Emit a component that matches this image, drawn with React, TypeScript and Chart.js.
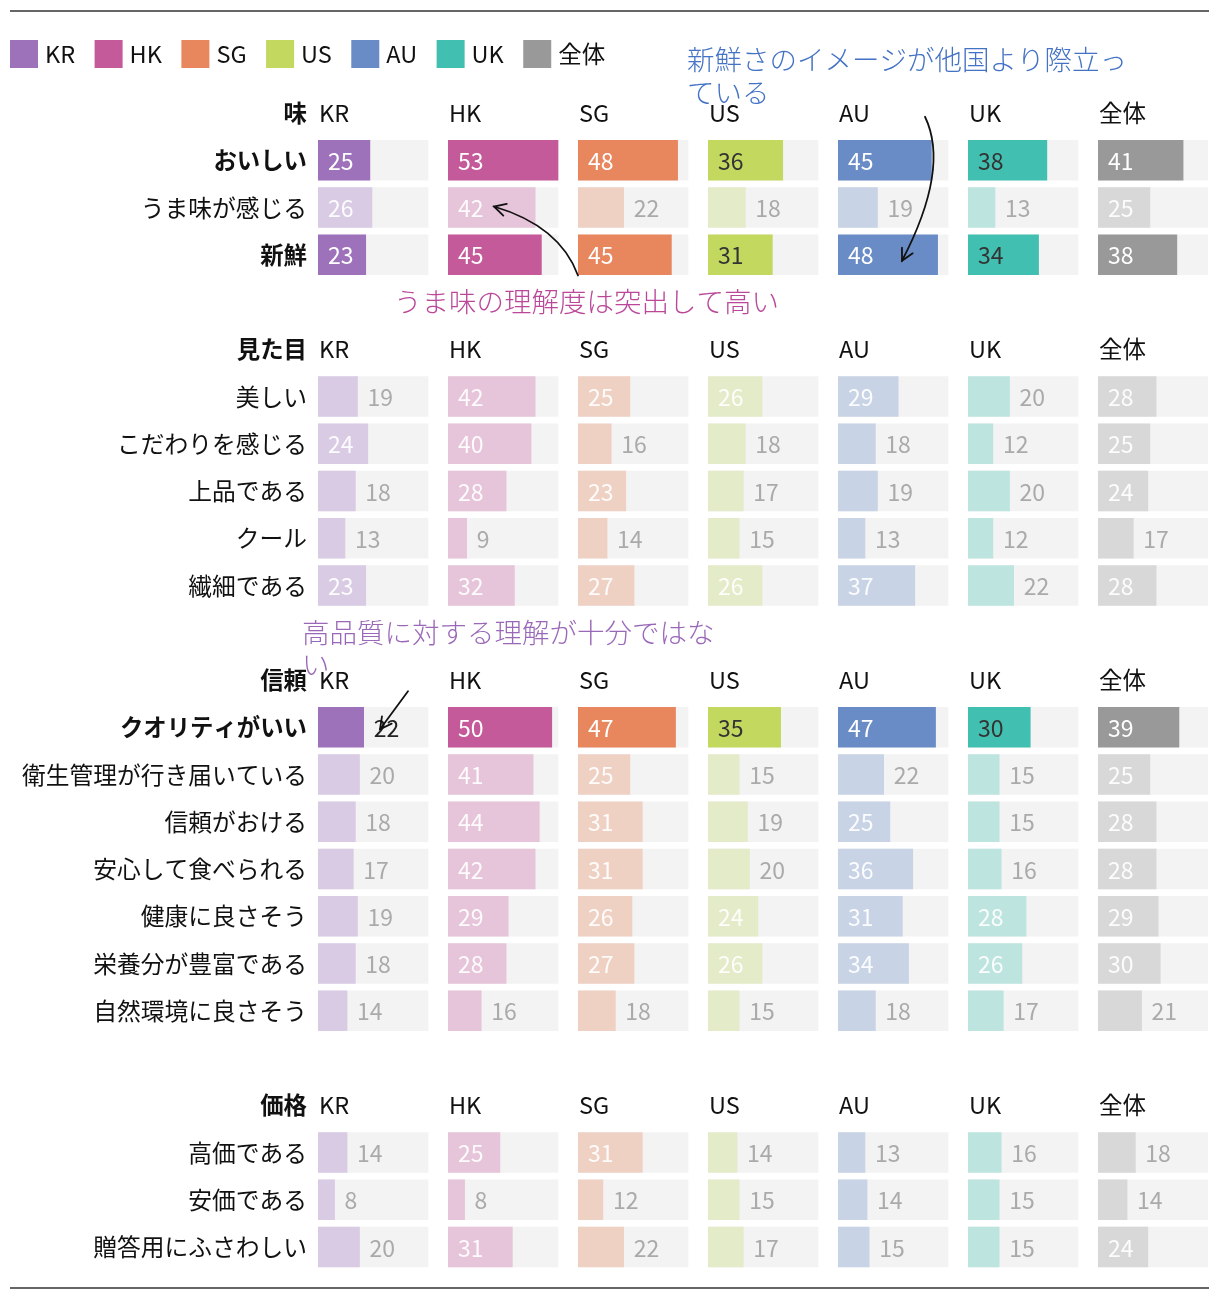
import React, { useEffect, useRef } from 'react';
import { Chart, registerables } from 'chart.js';

Chart.register(...registerables);

// ---------------- data ----------------
const countries = ['KR', 'HK', 'SG', 'US', 'AU', 'UK', '全体'];
const sectionNames = ['味', '見た目', '信頼', '価格'];
const tasteItems = ['おいしい', 'うま味が感じる', '新鮮'];
const lookItems = ['美しい', 'こだわりを感じる', '上品である', 'クール', '繊細である'];
const trustItems = ['クオリティがいい', '衛生管理が行き届いている', '信頼がおける', '安心して食べられる', '健康に良さそう', '栄養分が豊富である', '自然環境に良さそう'];
const priceItems = ['高価である', '安価である', '贈答用にふさわしい'];
const highlightedItems = ['おいしい', '新鮮', 'クオリティがいい'];

// values in item order: taste(3), look(5), trust(7), price(3)
const valuesKR = [25, 26, 23, 19, 24, 18, 13, 23, 22, 20, 18, 17, 19, 18, 14, 14, 8, 20];
const valuesHK = [53, 42, 45, 42, 40, 28, 9, 32, 50, 41, 44, 42, 29, 28, 16, 25, 8, 31];
const valuesSG = [48, 22, 45, 25, 16, 23, 14, 27, 47, 25, 31, 31, 26, 27, 18, 31, 12, 22];
const valuesUS = [36, 18, 31, 26, 18, 17, 15, 26, 35, 15, 19, 20, 24, 26, 15, 14, 15, 17];
const valuesAU = [45, 19, 48, 29, 18, 19, 13, 37, 47, 22, 25, 36, 31, 34, 18, 13, 14, 15];
const valuesUK = [38, 13, 34, 20, 12, 20, 12, 22, 30, 15, 15, 16, 28, 26, 17, 16, 15, 15];
const valuesAll = [41, 25, 38, 28, 25, 24, 17, 28, 39, 25, 28, 28, 29, 30, 21, 18, 14, 24];
const countryValues = [valuesKR, valuesHK, valuesSG, valuesUS, valuesAU, valuesUK, valuesAll];

const scaleMax = 53;
const insideLabelMin = 23;

const annotationTexts = [
  '新鮮さのイメージが他国より際立っている',
  'うま味の理解度は突出して高い',
  '高品質に対する理解が十分ではない',
];

// ---------------- styles ----------------
const FONT = '"Noto Sans CJK JP", "Noto Sans", sans-serif';
const fullColors = ['#9e72bb', '#c45a9a', '#e8865e', '#c2d85f', '#6a8cc6', '#41bfb0', '#999999'];
const lightColors = ['#d9cbe4', '#e6c4d9', '#efd1c4', '#e4ebc8', '#c8d3e6', '#bde4df', '#d8d8d8'];
const darkTextOnFull = [false, false, false, true, false, true, false];
const trackColor = '#f3f3f3';

type Row = { label: string; kind: 'header' | 'item' | 'gap'; itemIndex: number };
const sectionItems = [tasteItems, lookItems, trustItems, priceItems];
const rows: Row[] = [];
{
  let k = 0;
  sectionItems.forEach((items, s) => {
    if (s > 0) rows.push({ label: '', kind: 'gap', itemIndex: -1 });
    rows.push({ label: sectionNames[s], kind: 'header', itemIndex: -1 });
    items.forEach((it) => rows.push({ label: it, kind: 'item', itemIndex: k++ }));
  });
}
const rowIndex = (label: string) => rows.findIndex((r) => r.label === label);
const isBoldRow = (r: Row) => r.kind === 'header' || highlightedItems.includes(r.label);

function wrapText(ctx: CanvasRenderingContext2D, text: string, maxW: number) {
  const lines: string[] = [];
  let cur = '';
  for (const ch of Array.from(text)) {
    if (cur && ctx.measureText(cur + ch).width > maxW) {
      lines.push(cur);
      cur = ch;
    } else cur += ch;
  }
  if (cur) lines.push(cur);
  return lines;
}

function drawArrow(ctx: CanvasRenderingContext2D, sx: number, sy: number, cx: number | null, cy: number | null, ex: number, ey: number) {
  ctx.beginPath();
  ctx.moveTo(sx, sy);
  if (cx !== null && cy !== null) ctx.quadraticCurveTo(cx, cy, ex, ey);
  else ctx.lineTo(ex, ey);
  ctx.stroke();
  const ang = cx !== null && cy !== null ? Math.atan2(ey - cy, ex - cx) : Math.atan2(ey - sy, ex - sx);
  const len = 13;
  const spread = Math.PI / 6.5;
  ctx.beginPath();
  ctx.moveTo(ex - len * Math.cos(ang - spread), ey - len * Math.sin(ang - spread));
  ctx.lineTo(ex, ey);
  ctx.lineTo(ex - len * Math.cos(ang + spread), ey - len * Math.sin(ang + spread));
  ctx.stroke();
}

const overlayPlugin = {
  id: 'overlay',
  afterDatasetsDraw(chart: any) {
    const ctx: CanvasRenderingContext2D = chart.ctx;
    const ys = chart.scales.y;
    const W = chart.width;
    ctx.save();

    // top & bottom rules
    ctx.strokeStyle = '#666';
    ctx.lineWidth = 2;
    ctx.beginPath();
    ctx.moveTo(2, 3);
    ctx.lineTo(W - 3, 3);
    ctx.moveTo(2, chart.height - 6);
    ctx.lineTo(W - 3, chart.height - 6);
    ctx.stroke();

    // legend
    ctx.font = `23.5px ${FONT}`;
    ctx.textBaseline = 'middle';
    ctx.textAlign = 'left';
    let lx = 2;
    countries.forEach((c, ci) => {
      ctx.fillStyle = fullColors[ci];
      ctx.fillRect(lx, 32, 28, 28);
      ctx.fillStyle = '#111';
      ctx.fillText(c, lx + 35, 46);
      lx += 35 + ctx.measureText(c).width + 19.5;
    });

    // column headers in header rows
    ctx.fillStyle = '#111';
    ctx.font = `23.5px ${FONT}`;
    rows.forEach((r, i) => {
      if (r.kind !== 'header') return;
      const y = ys.getPixelForValue(i);
      countries.forEach((c, ci) => {
        const xs = chart.scales['x' + ci];
        ctx.fillText(c, xs.left + 1, y);
      });
    });

    // value labels
    ctx.font = `23px ${FONT}`;
    countries.forEach((c, ci) => {
      const meta = chart.getDatasetMeta(ci * 2 + 1);
      meta.data.forEach((el: any, i: number) => {
        const r = rows[i];
        if (r.kind !== 'item') return;
        const v = countryValues[ci][r.itemIndex];
        const hl = highlightedItems.includes(r.label);
        const { x, y, base } = el.getProps(['x', 'y', 'base'], true);
        const inside = v >= insideLabelMin;
        let color: string;
        if (hl) color = inside ? (darkTextOnFull[ci] ? '#333' : '#ffffff') : '#222';
        else color = inside ? 'rgba(255,255,255,0.92)' : '#aaaaaa';
        ctx.fillStyle = color;
        ctx.fillText(String(v), inside ? Math.min(base, x) + 10 : Math.max(base, x) + 10, y + 1);
      });
    });

    // annotations
    const x0 = chart.scales.x0.left;
    const x1 = chart.scales.x1.left;
    const x3 = chart.scales.x3.left;
    const x4 = chart.scales.x4.left;
    const rowY = (label: string) => ys.getPixelForValue(rowIndex(label));
    ctx.font = `300 27.5px ${FONT}`;

    // 1: freshness (AU)
    ctx.fillStyle = '#4472c4';
    wrapText(ctx, annotationTexts[0], 455).forEach((ln, k) => ctx.fillText(ln, x3 - 21, rowY('味') - 53 + k * 33));
    // 2: umami (HK)
    ctx.fillStyle = '#bb4799';
    wrapText(ctx, annotationTexts[1], 600).forEach((ln, k) => ctx.fillText(ln, x0 + 76, rowY('新鮮') + 47 + k * 33));
    // 3: quality (KR)
    ctx.fillStyle = '#9a68b8';
    wrapText(ctx, annotationTexts[2], 425).forEach((ln, k) => ctx.fillText(ln, x0 - 16, rowY('信頼') - 47 + k * 32));

    ctx.strokeStyle = '#111';
    ctx.lineWidth = 1.8;
    ctx.lineCap = 'round';
    {
      const ex = x4 + 64, ey = rowY('新鮮') + 6;
      drawArrow(ctx, ex + 23, ey - 144, ex + 48, ey - 92, ex, ey);
    }
    {
      const ex = x1 + 46, ey = rowY('うま味が感じる') - 1;
      drawArrow(ctx, ex + 84, ey + 69, ex + 66, ey + 19.5, ex, ey);
    }
    {
      const ex = x0 + 62, ey = rowY('クオリティがいい') + 2;
      drawArrow(ctx, ex + 28, ey - 38, null, null, ex, ey);
    }
    ctx.restore();
  },
};

function buildConfig(): any {
  const datasets: any[] = [];
  countries.forEach((c, ci) => {
    datasets.push({
      label: c + ' track',
      data: rows.map((r) => (r.kind === 'item' ? scaleMax : null)),
      xAxisID: 'x' + ci,
      yAxisID: 'y',
      backgroundColor: trackColor,
      order: 2,
      grouped: false,
      barThickness: 40,
      borderWidth: 0,
    });
    datasets.push({
      label: c,
      data: rows.map((r) => (r.kind === 'item' ? countryValues[ci][r.itemIndex] : null)),
      xAxisID: 'x' + ci,
      yAxisID: 'y',
      backgroundColor: (ctx: any) => {
        const r = rows[ctx.dataIndex];
        return r && highlightedItems.includes(r.label) ? fullColors[ci] : lightColors[ci];
      },
      order: 1,
      grouped: false,
      barThickness: 40,
      borderWidth: 0,
    });
  });

  const scales: any = {
    y: {
      type: 'category',
      axis: 'y',
      position: 'left',
      labels: rows.map((r) => r.label),
      offset: true,
      grid: { display: false, drawTicks: false },
      border: { display: false },
      ticks: {
        autoSkip: false,
        padding: 11,
        color: '#111',
        font: (ctx: any) => {
          const bold = rows[ctx.index] && isBoldRow(rows[ctx.index]);
          return { family: FONT, size: bold ? 23.4 : 23.75, weight: bold ? 'bold' : 'normal' };
        },
      },
      afterFit: (s: any) => {
        s.width = 310;
        s.paddingTop = 0;
        s.paddingBottom = 0;
      },
    },
  };
  countries.forEach((c, ci) => {
    const last = ci === countries.length - 1;
    scales['x' + ci] = {
      type: 'linear',
      axis: 'x',
      position: 'bottom',
      display: false,
      stack: 'cols',
      stackWeight: last ? 110 : 130,
      min: 0,
      max: last ? scaleMax : (scaleMax * 130) / 110,
    };
  });

  return {
    type: 'bar',
    data: { labels: rows.map((r) => r.label), datasets },
    options: {
      indexAxis: 'y',
      responsive: false,
      animation: false,
      events: [],
      layout: { padding: { top: 81.375, left: 0, right: 4, bottom: 23.375 } },
      plugins: { legend: { display: false }, tooltip: { enabled: false }, title: { display: false } },
      scales,
    },
    plugins: [overlayPlugin],
  };
}

export default function App() {
  const ref = useRef<HTMLCanvasElement>(null);
  useEffect(() => {
    if (!ref.current) return;
    const chart = new Chart(ref.current, buildConfig());
    return () => chart.destroy();
  }, []);
  return (
    <canvas
      ref={ref}
      width={1204}
      height={1286}
      style={{ display: 'block', width: '1204px', height: '1286px' }}
    />
  );
}
